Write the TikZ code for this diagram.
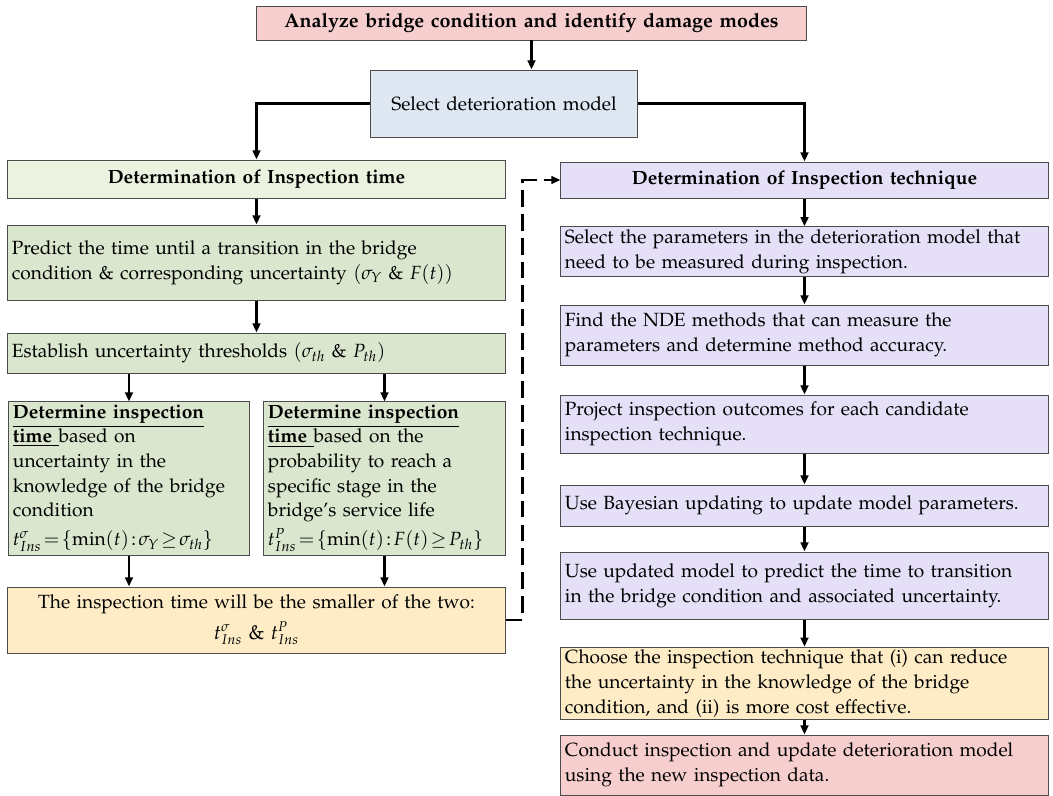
\documentclass[tikz,border=0pt]{standalone}
\usepackage[T1]{fontenc}
\usepackage{mathpazo}
\usetikzlibrary{arrows.meta}

\definecolor{pinkbox}{RGB}{246,206,206}
\definecolor{bluebox}{RGB}{222,231,242}
\definecolor{greenhead}{RGB}{236,242,224}
\definecolor{greenbox}{RGB}{218,230,206}
\definecolor{purplebox}{RGB}{229,223,247}
\definecolor{orangebox}{RGB}{253,236,198}

\begin{document}
\begin{tikzpicture}[x=0.025cm, y=-0.025cm,
  blk/.style={draw=black!70, line width=0.7pt, inner xsep=0.1cm, inner ysep=2pt,
    align=left, font=\fontsize{13.6}{17.5}\selectfont},
  arr/.style={line width=1.8pt, -{Triangle[length=6.5pt,width=5.5pt]}},
  dasharr/.style={arr, dash pattern=on 12pt off 5pt}]
\useasboundingbox (0,0) rectangle (1053,796);

% 上部
\node[blk, fill=pinkbox, align=center, text width=13.525cm, minimum height=0.85cm,
  font=\fontsize{14}{17}\selectfont\bfseries] (top) at (531.5,23)
  {Analyze bridge condition and identify damage modes};
\node[blk, fill=bluebox, align=center, text width=6.45cm, minimum height=1.675cm] (sel) at (504,103.5)
  {Select deterioration model};

% 左列: 检测时间
\node[blk, fill=greenhead, align=center, text width=12.225cm, minimum height=0.95cm,
  font=\fontsize{13.6}{17}\selectfont\bfseries] (timehead) at (256.5,179)
  {Determination of Inspection time};
\node[blk, fill=greenbox, text width=12.225cm, minimum height=1.875cm] (predict) at (256.5,262.5)
  {Predict the time until a transition in the bridge\\
   condition \& corresponding uncertainty $(\sigma_{Y}$ \& $F(t))$};
\node[blk, fill=greenbox, text width=12.225cm, minimum height=1.0cm] (thresh) at (256.5,353)
  {Establish uncertainty thresholds $(\sigma_{th}$ \& $P_{th})$};
\node[blk, fill=greenbox, text width=5.8cm, minimum height=3.825cm] (detsig) at (129,478.5)
  {\underline{\textbf{Determine inspection}}\\
   \underline{\textbf{time}\ }based on\\
   uncertainty in the\\
   knowledge of the bridge\\
   condition\\[3pt]
   \mbox{$t^{\sigma}_{Ins}\!=\!\{\min(t)\!:\!\sigma_{Y}\!\geq\!\sigma_{th}\}$}};
\node[blk, fill=greenbox, text width=5.825cm, minimum height=3.825cm] (detP) at (384.5,478.5)
  {\underline{\textbf{Determine inspection}}\\
   \underline{\textbf{time}\ }based on the\\
   probability to reach a\\
   specific stage in the\\
   bridge's service life\\[3pt]
   \mbox{$t^{P}_{Ins}\!=\!\{\min(t)\!:\!F(t)\!\geq\!P_{th}\}$}};
\node[blk, fill=orangebox, align=center, text width=12.225cm, minimum height=1.65cm] (result) at (256.5,620)
  {The inspection time will be the smaller of the two:\\[4pt]
   {\Large $t^{\sigma}_{Ins}$ \& $t^{P}_{Ins}$}};

% 右列: 检测技术
\node[blk, fill=purplebox, align=center, text width=11.975cm, minimum height=0.9cm,
  font=\fontsize{13.6}{17}\selectfont\bfseries] (techhead) at (804.5,180)
  {Determination of Inspection technique};
\node[blk, fill=purplebox, text width=11.975cm, minimum height=1.225cm] (param) at (804.5,251.5)
  {Select the parameters in the deterioration model that\\
   need to be measured during inspection.};
\node[blk, fill=purplebox, text width=11.975cm, minimum height=1.5cm] (nde) at (804.5,335)
  {Find the NDE methods that can measure the\\
   parameters and determine method accuracy.};
\node[blk, fill=purplebox, text width=11.975cm, minimum height=1.45cm] (proj) at (804.5,424)
  {Project inspection outcomes for each candidate\\
   inspection technique.};
\node[blk, fill=purplebox, text width=11.975cm, minimum height=1.025cm] (bayes) at (804.5,505.5)
  {Use Bayesian updating to update model parameters.};
\node[blk, fill=purplebox, text width=11.975cm, minimum height=1.675cm] (upd) at (804.5,585.5)
  {Use updated model to predict the time to transition\\
   in the bridge condition and associated uncertainty.};
\node[blk, fill=orangebox, text width=11.975cm, minimum height=1.775cm] (choose) at (804.5,683.5)
  {Choose the inspection technique that (i) can reduce\\
   the uncertainty in the knowledge of the bridge\\
   condition, and (ii) is more cost effective.};
\node[blk, fill=pinkbox, text width=11.975cm, minimum height=1.5cm] (conduct) at (804.5,765)
  {Conduct inspection and update deterioration model\\
   using the new inspection data.};

% 箭头
\draw[arr] (top.south) -- (top.south |- sel.north);
\draw[arr] (sel.west) -| (timehead.north);
\draw[arr] (sel.east) -| (techhead.north);
\draw[arr] (timehead) -- (predict);
\draw[arr] (predict) -- (thresh);
\draw[arr] (detsig.north |- thresh.south) -- (detsig.north);
\draw[arr] (detP.north |- thresh.south) -- (detP.north);
\draw[arr] (detsig.south) -- (detsig.south |- result.north);
\draw[arr] (detP.south) -- (detP.south |- result.north);
\draw[dasharr] (result.east) -- ++(17,0) |- (techhead.west);
\draw[arr] (techhead) -- (param);
\draw[arr] (param) -- (nde);
\draw[arr] (nde) -- (proj);
\draw[arr] (proj) -- (bayes);
\draw[arr] (bayes) -- (upd);
\draw[arr] (upd) -- (choose);
\draw[arr] (choose) -- (conduct);
\end{tikzpicture}
\end{document}
